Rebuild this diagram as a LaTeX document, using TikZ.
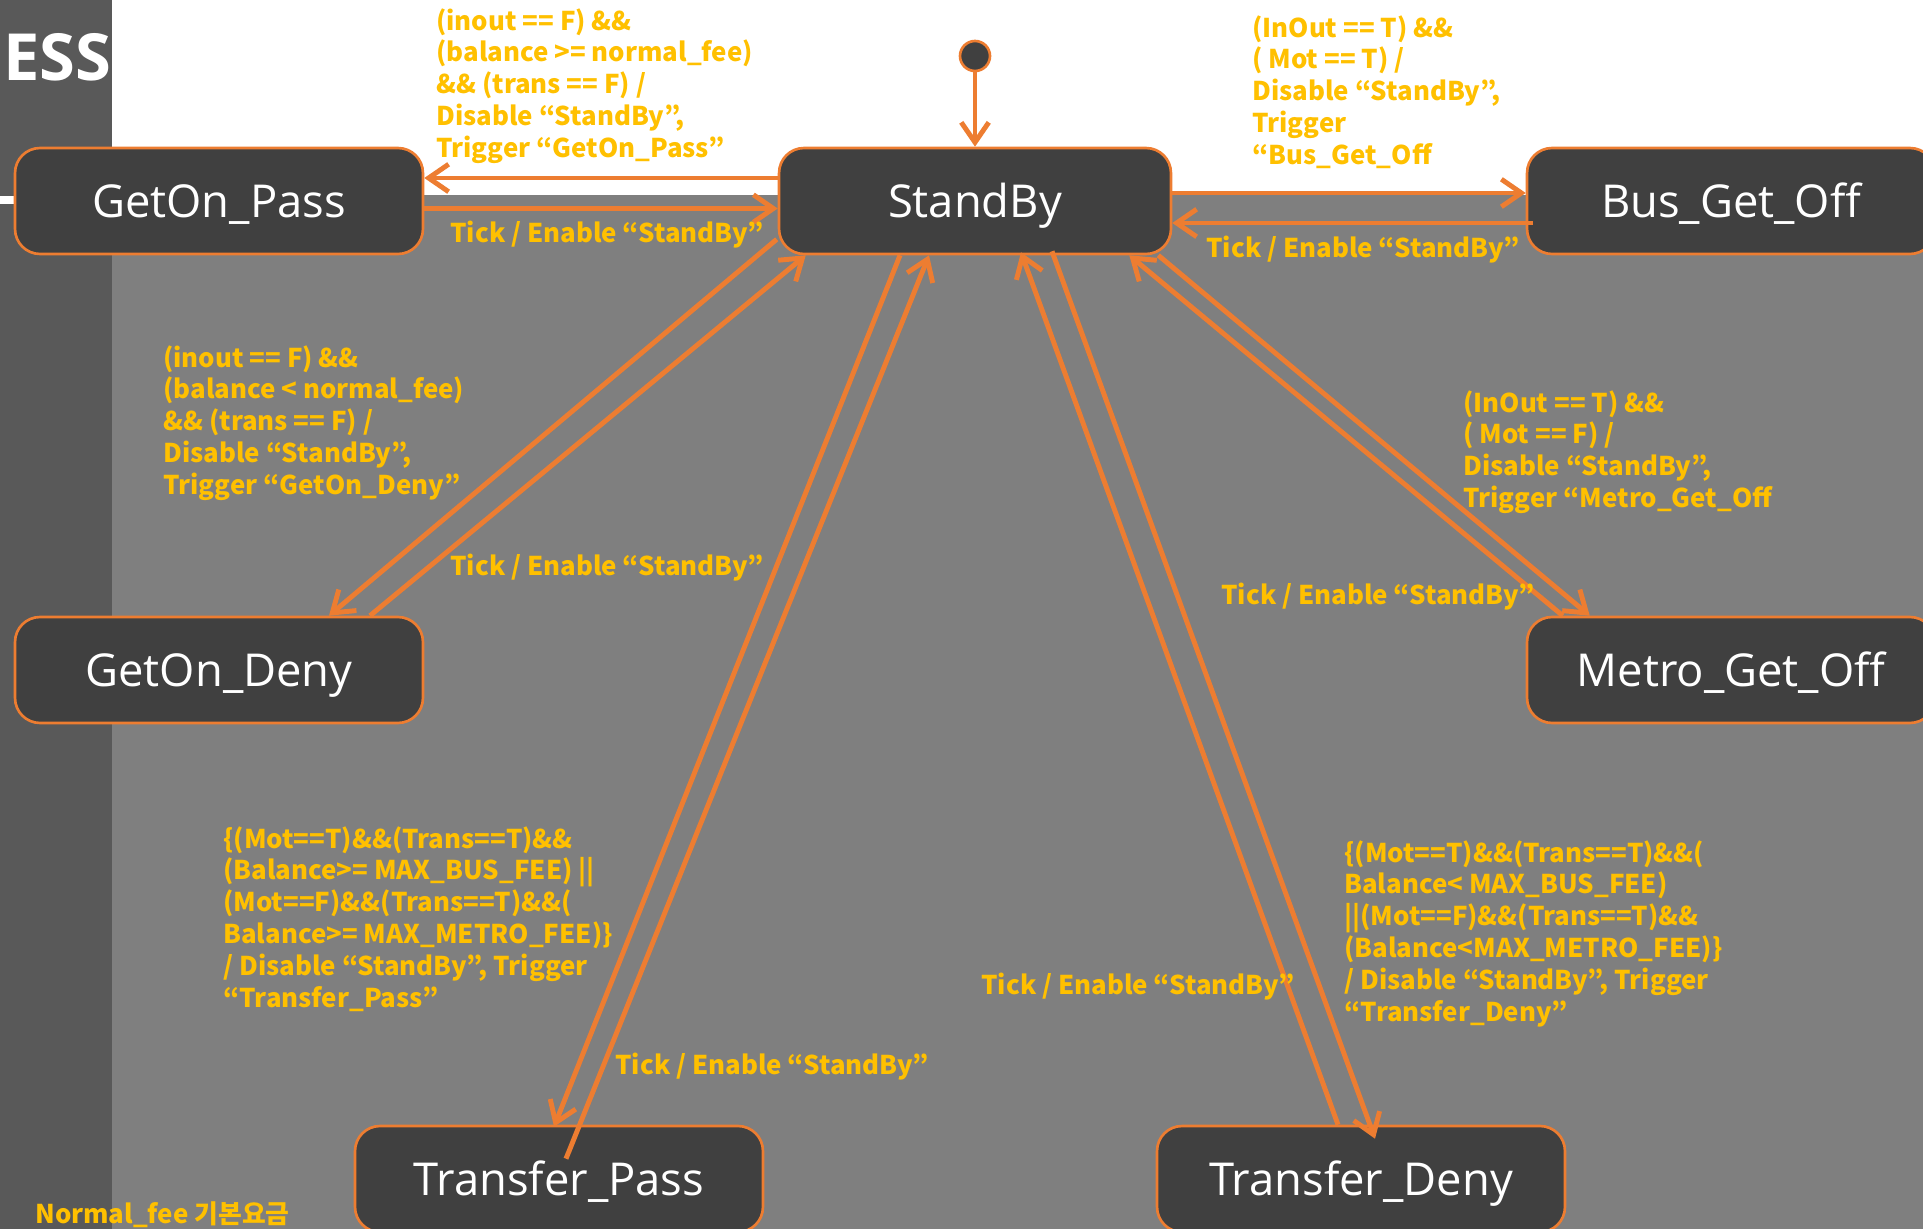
\documentclass[tikz,border=0pt]{standalone}
\usepackage{fontspec}
\setmainfont{Open Sans}
\newfontfamily\krfont{Noto Sans CJK KR}
\usetikzlibrary{arrows.meta,calc}

\definecolor{slidegray}{HTML}{7F7F7F}
\definecolor{stripgray}{HTML}{595959}
\definecolor{boxfill}{HTML}{404040}
\definecolor{lineorange}{HTML}{ED7D31}
\definecolor{guardyellow}{HTML}{FFC000}

\begin{document}
\begin{tikzpicture}[%
    x=0.02cm, y=-0.02cm,
    statebox/.style={
      draw=lineorange, line width=1.5pt, fill=boxfill, rounded corners=0.5cm,
      minimum width=8.16cm, minimum height=2.12cm, inner sep=0pt,
      text=white, text height=18.4pt, text depth=0pt,
      font=\fontsize{25.8}{31}\selectfont
    },
    guard/.style={
      anchor=north west, inner sep=0pt, align=left, text=guardyellow,
      font=\krfont\bfseries\fontsize{14.7}{18.1}\selectfont
    },
    ticklabel/.style={
      anchor=west, inner sep=0pt, text=guardyellow,
      font=\krfont\bfseries\fontsize{14.7}{18.1}\selectfont
    },
    trans/.style={
      draw=lineorange, line width=2.8pt,
      -{Straight Barb[length=0.4cm, width=0.55cm]}
    }
  ]
  \useasboundingbox (0,0) rectangle (1923,1229);
  \clip (0,0) rectangle (1923,1229);

  % slide backdrop
  \fill[white] (0,0) rectangle (1923,1229);
  \fill[slidegray] (112,195) rectangle (1923,1229);
  \fill[stripgray] (0,0) rectangle (112,1229);
  \fill[white] (0,196) rectangle (30,204);
  \node[anchor=west, inner sep=0pt, text=white,
    font=\bfseries\fontsize{37}{43}\selectfont] (title) at (3,57) {ESS};

  % states
  \node[statebox, minimum width=7.84cm] (standby) at (975,201) {StandBy};
  \node[statebox] (onpass) at (219,201) {GetOn\_Pass};
  \node[statebox] (busoff) at (1731,201) {Bus\_Get\_Off};
  \node[statebox] (ondeny) at (219,670) {GetOn\_Deny};
  \node[statebox] (metrooff) at (1731,670) {Metro\_Get\_Off};
  \node[statebox] (trpass) at (559,1179) {Transfer\_Pass};
  \node[statebox] (trdeny) at (1361,1179) {Transfer\_Deny};

  \node[
  circle,
  draw=lineorange,
  line width=1.5pt,
  fill=boxfill,
  inner sep=0pt,
  minimum size=0.6cm
  ] (init) at (975,56) {};

  % transitions
  \draw[trans] (init) -- (standby);

  \draw[trans] ($(standby.west)+(0,-23)$) -- ($(onpass.east)+(0,-23)$);
  \draw[trans] ($(onpass.east)+(0,7.5)$) -- ($(standby.west)+(0,7.5)$);
  \draw[trans] ($(standby.east)+(0,-8)$) -- ($(busoff.west)+(0,-8)$);
  \draw[trans] ($(busoff.west)+(7,22)$) -- ($(standby.east)+(0,22)$);

  \draw[trans] ($(standby.south west)+(-1,-16)$) -- ($(ondeny.north)+(110,0)$);
  \draw[trans] ($(ondeny.north)+(151,0)$) -- ($(standby.south west)+(28,0)$);
  \draw[trans] ($(standby.south east)+(-14,0)$) -- ($(metrooff.north west)+(64,0)$);
  \draw[trans] ($(metrooff.north west)+(37,0)$) -- ($(standby.south east)+(-43,0)$);

  \draw[trans] ($(standby.south)+(-75,0)$) -- ($(trpass.north)+(-5,2)$);
  \draw[trans] ($(trpass.north)+(7,34)$) -- ($(standby.south)+(-46,0)$);
  \draw[trans] ($(standby.south)+(77,-4)$) -- ($(trdeny.north)+(14,14)$);
  \draw[trans] ($(trdeny.north)+(-23,0)$) -- ($(standby.south)+(46,-3)$);

  % guards and actions
  \node[guard] (g onpass) at (436,8) {(inout == F) \&\&\\(balance >= normal\_fee)\\\&\& (trans == F) /\\Disable “StandBy”,\\Trigger “GetOn\_Pass”};
  \node[ticklabel] (t onpass) at (450,235) {Tick / Enable “StandBy”};

  \node[guard] (g busoff) at (1252,15) {(InOut == T) \&\&\\( Mot == T) /\\Disable “StandBy”,\\Trigger\\“Bus\_Get\_Off};
  \node[ticklabel] (t busoff) at (1206,250) {Tick / Enable “StandBy”};

  \node[guard] (g ondeny) at (163,345) {(inout == F) \&\&\\(balance < normal\_fee)\\\&\& (trans == F) /\\Disable “StandBy”,\\Trigger “GetOn\_Deny”};
  \node[ticklabel] (t ondeny) at (450,568) {Tick / Enable “StandBy”};

  \node[guard] (g metrooff) at (1463,390) {(InOut == T) \&\&\\( Mot == F) /\\Disable “StandBy”,\\Trigger “Metro\_Get\_Off};
  \node[ticklabel] (t metrooff) at (1221,597) {Tick / Enable “StandBy”};

  \node[guard] (g trpass) at (223,826) {\{(Mot==T)\&\&(Trans==T)\&\&\\(Balance>= MAX\_BUS\_FEE) ||\\(Mot==F)\&\&(Trans==T)\&\&(\\Balance>= MAX\_METRO\_FEE)\}\\/ Disable “StandBy”, Trigger\\“Transfer\_Pass”};
  \node[ticklabel] (t trpass) at (615,1067) {Tick / Enable “StandBy”};

  \node[guard] (g trdeny) at (1344,840) {\{(Mot==T)\&\&(Trans==T)\&\&(\\Balance< MAX\_BUS\_FEE)\\||(Mot==F)\&\&(Trans==T)\&\&\\(Balance<MAX\_METRO\_FEE)\}\\/ Disable “StandBy”, Trigger\\“Transfer\_Deny”};
  \node[ticklabel] (t trdeny) at (981,987) {Tick / Enable “StandBy”};

  \node[ticklabel] (note) at (35,1215) {Normal\_fee 기본요금};
\end{tikzpicture}
\end{document}
